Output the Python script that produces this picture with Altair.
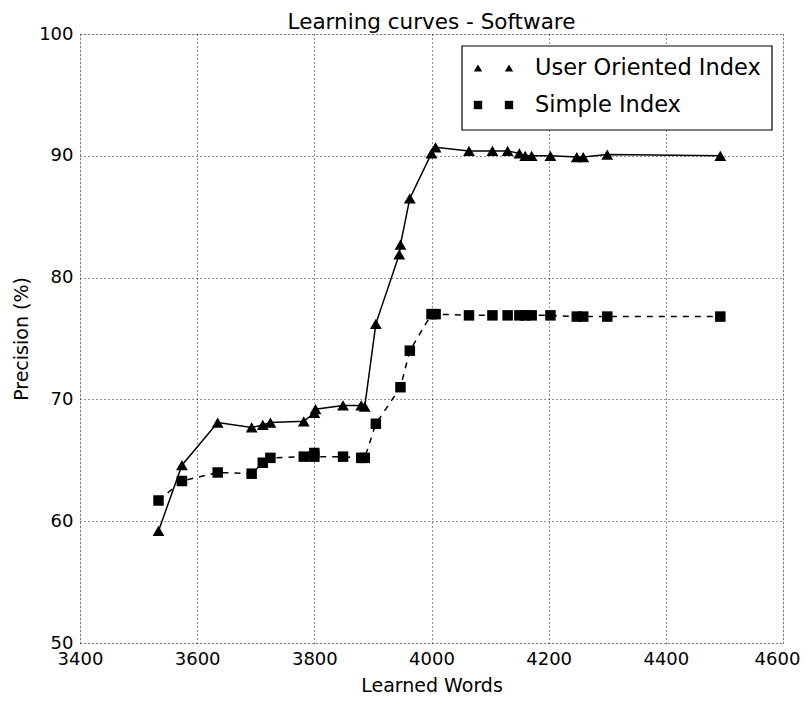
import altair as alt
import pandas as pd

# Data
uoi_words = [3534, 3574, 3635, 3693, 3712, 3725, 3782, 3800, 3802, 3849, 3880, 3886,
             3905, 3945, 3947, 3963, 4000, 4007, 4064, 4104, 4130, 4150, 4160, 4171,
             4203, 4248, 4259, 4300, 4493]
uoi_prec = [59.2, 64.6, 68.1, 67.7, 67.9, 68.1, 68.2, 68.9, 69.2, 69.5, 69.5, 69.4,
            76.2, 81.9, 82.7, 86.5, 90.2, 90.7, 90.4, 90.4, 90.4, 90.2, 90.0, 90.0,
            90.0, 89.9, 89.9, 90.1, 90.0]

simple_words = [3534, 3574, 3635, 3693, 3712, 3725, 3782, 3800, 3800, 3849, 3880, 3886,
                3905, 3947, 3963, 4000, 4007, 4064, 4104, 4130, 4150, 4160, 4171,
                4203, 4248, 4259, 4300, 4493]
simple_prec = [61.7, 63.3, 64.0, 63.9, 64.8, 65.2, 65.3, 65.6, 65.3, 65.3, 65.2, 65.2,
               68.0, 71.0, 74.0, 77.0, 77.0, 76.9, 76.9, 76.9, 76.9, 76.9, 76.9,
               76.9, 76.8, 76.8, 76.8, 76.8]

series_names = ["User Oriented Index", "Simple Index"]
chart_title = "Learning curves - Software"
x_ticks = [3400, 3600, 3800, 4000, 4200, 4400, 4600]
y_ticks = [50, 60, 70, 80, 90, 100]

FONT = "DejaVu Sans"
W, H = 703, 609
TICK_FS = 18
TITLE_FS = 19

df_u = pd.DataFrame({"words": uoi_words, "prec": uoi_prec, "i": range(len(uoi_words))})
df_s = pd.DataFrame({"words": simple_words, "prec": simple_prec, "i": range(len(simple_words))})

xs = alt.Scale(domain=[3400, 4600], nice=False, zero=False)
ys = alt.Scale(domain=[50, 100], nice=False, zero=False)

xenc = alt.X("words:Q", scale=xs, title="Learned Words",
             axis=alt.Axis(values=x_ticks, format="d", grid=True, gridColor="black",
                           gridDash=[1, 3], gridWidth=1, gridOpacity=0.85,
                           domain=False, ticks=False, labelPadding=7,
                           labelFontSize=TICK_FS, labelFont=FONT, labelColor="black",
                           labelOffset=alt.condition("datum.value == 4600",
                                                     alt.value(-6), alt.value(0)),
                           titleFont=FONT, titleFontSize=TITLE_FS,
                           titleFontWeight="normal",
                           titleColor="black", titlePadding=8, labelFlush=False))
yenc = alt.Y("prec:Q", scale=ys, title="Precision (%)",
             axis=alt.Axis(values=y_ticks, grid=True, gridColor="black",
                           gridDash=[1, 3], gridWidth=1, gridOpacity=0.85,
                           domain=False, ticks=False, labelPadding=7,
                           labelFontSize=TICK_FS, labelFont=FONT, labelColor="black",
                           titleFont=FONT, titleFontSize=TITLE_FS,
                           titleFontWeight="normal",
                           titleColor="black", titlePadding=7, labelFlush=False))

u_line = alt.Chart(df_u).mark_line(color="black", strokeWidth=1.5).encode(
    x=xenc, y=yenc, order="i:Q")
u_pts = alt.Chart(df_u).mark_point(shape="triangle-up", filled=True, color="black",
                                   size=140, opacity=1).encode(x="words:Q", y="prec:Q")
s_line = alt.Chart(df_s).mark_line(color="black", strokeWidth=1.5,
                                   strokeDash=[6, 6]).encode(x="words:Q", y="prec:Q",
                                                             order="i:Q")
s_pts = alt.Chart(df_s).mark_point(shape="square", filled=True, color="black",
                                   size=110, opacity=1).encode(x="words:Q", y="prec:Q")

one = alt.Data(values=[{"a": 1}])

# Title as text above the plot frame
title_layer = alt.Chart(one).mark_text(text=chart_title, font=FONT, fontSize=21.5,
                                       align="center", baseline="alphabetic",
                                       color="black").encode(
    x=alt.value(W / 2), y=alt.value(-5.5))

# Manual legend (box, two markers per entry, label)
box = alt.Chart(one).mark_rect(fill="white", stroke="black", strokeWidth=1.2).encode(
    x=alt.value(382), x2=alt.value(692), y=alt.value(12), y2=alt.value(96))
leg_layers = [box]
for name, shape, ly in [(series_names[0], "triangle-up", 34),
                        (series_names[1], "square", 71)]:
    for mx in (398, 429):
        leg_layers.append(alt.Chart(one).mark_point(shape=shape, filled=True,
                                                    color="black", size=70,
                                                    opacity=1).encode(
            x=alt.value(mx), y=alt.value(ly)))
    leg_layers.append(alt.Chart(one).mark_text(text=name, font=FONT, fontSize=22.5,
                                               align="left", baseline="middle",
                                               color="black").encode(
        x=alt.value(455), y=alt.value(ly)))

chart = alt.layer(u_line, s_line, u_pts, s_pts, title_layer, *leg_layers).properties(
    width=W, height=H,
    autosize=alt.AutoSizeParams(type="none"),
    padding={"left": 72, "top": 26, "right": 17, "bottom": 51},
).configure_view(stroke="black", strokeWidth=1.2).configure(background="white")

chart.save("out.html", embed_options={"renderer": "svg", "actions": False})
